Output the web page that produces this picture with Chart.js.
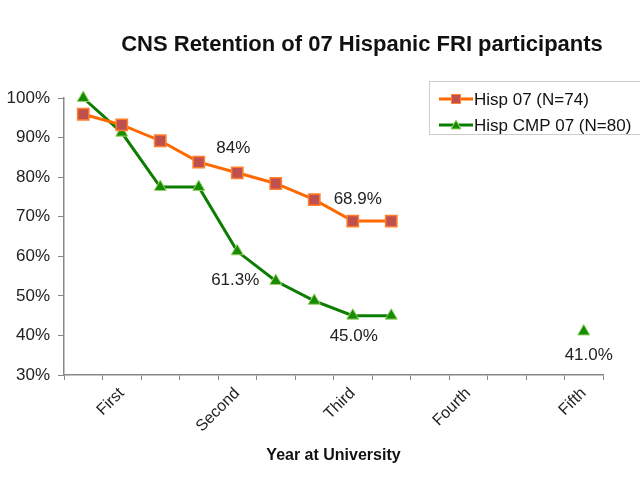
<!DOCTYPE html>
<html>
<head>
<meta charset="utf-8">
<script src="https://cdn.jsdelivr.net/npm/chart.js@4.4.1/dist/chart.umd.min.js"></script>
<style>
  html, body { margin: 0; padding: 0; background: #fff; }
</style>
</head>
<body>
<canvas id="chart" width="640" height="480"></canvas>
<script>
// terms along the x axis, only the start of each year gets a name
const terms = ["", "First", "", "", "Second", "", "", "Third", "", "", "Fourth", "", "", "Fifth"];
const hisp07 = [95.9, 93.2, 89.2, 83.8, 81.1, 78.4, 74.3, 68.9, 68.9, null, null, null, null, null];
const hispCmp07 = [100, 91.25, 77.5, 77.5, 61.25, 53.75, 48.75, 45.0, 45.0, null, null, null, null, 41.0];
const seriesNames = ["Hisp 07 (N=74)", "Hisp CMP 07 (N=80)"];

// value callouts: text, series, point index
const noteText = ["84%", "68.9%", "61.3%", "45.0%", "41.0%"];
const noteSeries = [0, 0, 1, 1, 1];
const noteIndex = [4, 7, 4, 7, 13];

const FONT = '"Liberation Sans", Arial, Helvetica, sans-serif';

// offsets of the callouts from their points (px)
const noteShift = [[-4, -24], [5, -22], [-2, 29], [1, 21], [5, 24]];

const extras = {
  id: "extras",
  afterDraw(chart) {
    const ctx = chart.ctx;
    ctx.save();

    // title
    ctx.fillStyle = "#111";
    ctx.font = "bold 22px " + FONT;
    ctx.textAlign = "center";
    ctx.textBaseline = "middle";
    ctx.fillText("CNS Retention of 07 Hispanic FRI participants", 362, 45);

    // callouts
    ctx.font = "17px " + FONT;
    ctx.fillStyle = "#222";
    noteText.forEach((t, i) => {
      const pt = chart.getDatasetMeta(noteSeries[i]).data[noteIndex[i]];
      ctx.fillText(t, pt.x + noteShift[i][0], pt.y + noteShift[i][1]);
    });

    // legend box
    ctx.strokeStyle = "#cccccc";
    ctx.lineWidth = 1;
    ctx.strokeRect(429.5, 81.5, 220, 53);
    const rows = [99, 125];
    chart.data.datasets.forEach((ds, i) => {
      const y = rows[i];
      ctx.strokeStyle = ds.borderColor;
      ctx.lineWidth = 3;
      ctx.beginPath();
      ctx.moveTo(439, y);
      ctx.lineTo(473, y);
      ctx.stroke();
      ctx.fillStyle = ds.pointBackgroundColor;
      ctx.strokeStyle = ds.pointBorderColor;
      ctx.lineWidth = 1;
      ctx.beginPath();
      if (ds.pointStyle === "rect") {
        ctx.rect(451.5, y - 4.5, 9, 9);
      } else {
        ctx.moveTo(456, y - 5);
        ctx.lineTo(461, y + 4);
        ctx.lineTo(451, y + 4);
        ctx.closePath();
      }
      ctx.fill();
      ctx.stroke();
      ctx.fillStyle = "#111";
      ctx.font = "17px " + FONT;
      ctx.textAlign = "left";
      ctx.fillText(ds.label, 474, y + 1);
    });

    ctx.restore();
  }
};

new Chart(document.getElementById("chart"), {
  type: "line",
  data: {
    labels: terms,
    datasets: [
      {
        label: seriesNames[0],
        data: hisp07,
        borderColor: "#ff6a00",
        borderWidth: 3,
        pointStyle: "rect",
        pointRadius: 8,
        pointBackgroundColor: "#c0504d",
        pointBorderColor: "#ff7f2a",
        pointBorderWidth: 1.5,
        clip: false
      },
      {
        label: seriesNames[1],
        data: hispCmp07,
        borderColor: "#0b7d00",
        borderWidth: 3,
        pointStyle: "triangle",
        pointRadius: 7,
        pointBackgroundColor: "#168c00",
        pointBorderColor: "#9ad46e",
        pointBorderWidth: 1,
        clip: false
      }
    ]
  },
  options: {
    responsive: false,
    animation: false,
    layout: { autoPadding: false, padding: { top: 98, right: 37, left: 0, bottom: 0 } },
    plugins: {
      legend: { display: false },
      title: { display: false },
      tooltip: { enabled: false }
    },
    scales: {
      x: {
        offset: true,
        afterFit: s => { s.height = 105; },
        grid: { offset: true, drawOnChartArea: false, tickLength: 5, color: "#888" },
        border: { color: "#888", width: 1.5 },
        ticks: {
          autoSkip: false,
          minRotation: 45,
          maxRotation: 45,
          padding: 4,
          color: "#222",
          font: { family: FONT, size: 16 }
        },
        title: {
          display: true,
          text: "Year at University",
          color: "#111",
          font: { family: FONT, size: 16, weight: "bold" },
          padding: { top: 15, bottom: 15 }
        }
      },
      y: {
        min: 30,
        max: 100,
        afterFit: s => { s.width = 64; },
        grid: { drawOnChartArea: false, tickLength: 6, color: "#888" },
        border: { color: "#888", width: 1.5 },
        ticks: {
          stepSize: 10,
          padding: 8,
          color: "#222",
          font: { family: FONT, size: 17 },
          callback: v => v + "%"
        }
      }
    }
  },
  plugins: [extras]
});
</script>
</body>
</html>
